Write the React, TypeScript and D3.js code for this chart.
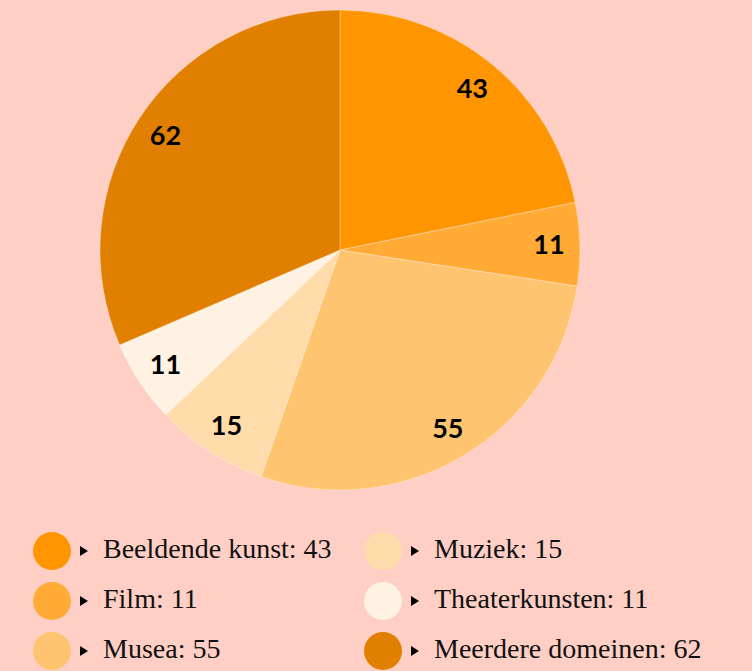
import * as d3 from 'd3';

const categories = ['Beeldende kunst', 'Film', 'Musea', 'Muziek', 'Theaterkunsten', 'Meerdere domeinen'];
const values = [43, 11, 55, 15, 11, 62];
const colors = ['#FF9500', '#FFAB36', '#FFC46F', '#FFDCA9', '#FFF2E3', '#E18000'];

const width = 752;
const height = 671;
const cx = 340;
const cy = 250;
const radius = 240;

type Datum = { label: string; value: number; color: string };

const App = () => {
  const data: Datum[] = categories.map((label, i) => ({ label, value: values[i], color: colors[i] }));

  const pie = d3.pie<Datum>()
    .value(d => d.value)
    .sort(null);

  const arc = d3.arc<d3.PieArcDatum<Datum>>()
    .innerRadius(0)
    .outerRadius(radius);

  const labelArc = d3.arc<d3.PieArcDatum<Datum>>()
    .innerRadius(209)
    .outerRadius(209);

  const arcs = pie(data);

  // legend: two columns of three rows
  const legendX = d3.scaleOrdinal<number, number>().domain([0, 1]).range([52, 383]);
  const legendY = d3.scaleLinear().domain([0, 1]).range([551, 601]);

  return (
    <div style={{ position: 'fixed', left: 0, top: 0, width, height }}>
      <svg width={width} height={height}>
        <rect width={width} height={height} fill="#FFCFC6" />
        <g transform={`translate(${cx},${cy})`}>
          {arcs.map((d, i) => (
            <path key={i} d={arc(d) || ''} fill={d.data.color} stroke="rgba(255,255,255,0.3)" strokeWidth={1} />
          ))}
          {arcs.map((d, i) => {
            const [x, y] = labelArc.centroid(d);
            return (
              <text key={i} x={x} y={y} dy="0.35em" textAnchor="middle"
                fontFamily="Lato, sans-serif" fontWeight="bold" fontSize={27} fill="#000">
                {d.data.value}
              </text>
            );
          })}
        </g>
        {data.map((d, i) => {
          const col = Math.floor(i / 3);
          const row = i % 3;
          const x = legendX(col);
          const y = legendY(row);
          return (
            <g key={i} transform={`translate(${x},${y})`}>
              <circle r={19} fill={d.color} />
              <path d="M28,-5 L36,0 L28,5 Z" fill="#000" />
              <text x={51} y={7} fontFamily="'Liberation Serif', serif" fontSize={28} fill="#111">
                {`${d.label}: ${d.value}`}
              </text>
            </g>
          );
        })}
      </svg>
    </div>
  );
};

export default App;
